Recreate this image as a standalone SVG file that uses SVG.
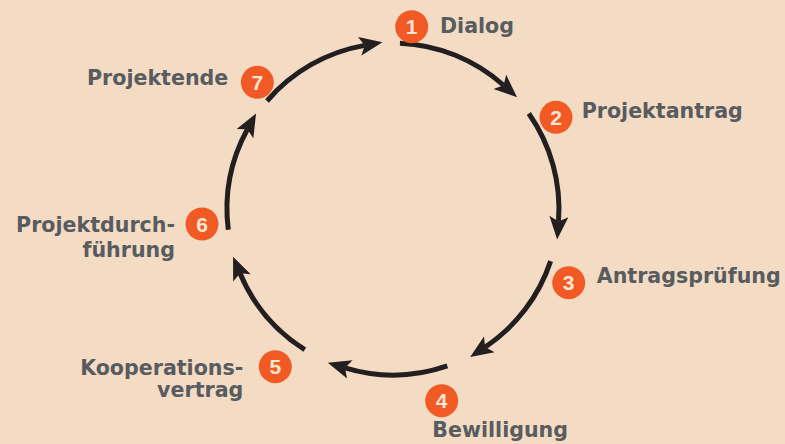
<svg xmlns="http://www.w3.org/2000/svg" width="785" height="444" viewBox="0 0 785 444">
<style>
.lbl{font-family:"DejaVu Sans",Verdana,sans-serif;font-weight:bold;font-size:20.6px;fill:#585c5f}
.badge{fill:#f15a24}
.num{font-family:"Liberation Sans",Arial,sans-serif;font-weight:bold;font-size:21px;fill:#fde5d3;text-anchor:middle}
.arc{fill:none;stroke:#231f20;stroke-width:5;marker-end:url(#ah)}
</style>
<defs>
<marker id="ah" markerUnits="userSpaceOnUse" markerWidth="40" markerHeight="40" refX="0" refY="0" viewBox="-10 -20 40 40" orient="auto" overflow="visible">
<path d="M18,0 L-5,-9.5 L0,0 L-5,9.5 Z" fill="#231f20"/>
</marker>
</defs>
<rect width="785" height="444" fill="#f3dbc4"/>
<g id="connectors">
<path class="arc" d="M399.95,43.15 A166,166 0 0 1 503.6,85.25"/>
<path class="arc" d="M528.8,113.55 A166,166 0 0 1 558.5,221.45"/>
<path class="arc" d="M550.6,261.1 A166,166 0 0 1 485.1,347.1"/>
<path class="arc" d="M447.3,365.9 A166,166 0 0 1 345.0,367.9"/>
<path class="arc" d="M304.8,349.6 A166,166 0 0 1 240.0,273.3"/>
<path class="arc" d="M228.3,229.8 A166,166 0 0 1 247.4,129.3"/>
<path class="arc" d="M267.0,101.0 A166,166 0 0 1 364.7,45.4"/>
</g>
<g id="n1">
<circle class="badge" cx="411.7" cy="26.7" r="16.5"/>
<text class="num" x="411.7" y="34.2">1</text>
<text class="lbl" x="440" y="33.3">Dialog</text>
</g>
<g id="n2">
<circle class="badge" cx="556" cy="117.3" r="16.5"/>
<text class="num" x="556" y="124.8">2</text>
<text class="lbl" x="581.7" y="118.3">Projektantrag</text>
</g>
<g id="n3">
<circle class="badge" cx="568.7" cy="282.7" r="16.5"/>
<text class="num" x="568.7" y="290.2">3</text>
<text class="lbl" x="596.7" y="282.7">Antragsprüfung</text>
</g>
<g id="n4">
<circle class="badge" cx="441.7" cy="400.7" r="16.5"/>
<text class="num" x="441.7" y="408.2">4</text>
<text class="lbl" x="432.3" y="437.3">Bewilligung</text>
</g>
<g id="n5">
<circle class="badge" cx="275.3" cy="366.7" r="16.5"/>
<text class="num" x="275.3" y="374.2">5</text>
<text class="lbl" x="243.3" y="375" text-anchor="end">Kooperations-</text>
<text class="lbl" x="243.3" y="397.3" text-anchor="end">vertrag</text>
</g>
<g id="n6">
<circle class="badge" cx="202" cy="224" r="16.5"/>
<text class="num" x="202" y="231.5">6</text>
<text class="lbl" x="175" y="231.7" text-anchor="end">Projektdurch-</text>
<text class="lbl" x="175" y="257.3" text-anchor="end">führung</text>
</g>
<g id="n7">
<circle class="badge" cx="257.3" cy="82.3" r="16.5"/>
<text class="num" x="257.3" y="89.8">7</text>
<text class="lbl" x="228.3" y="85" text-anchor="end">Projektende</text>
</g>
</svg>
